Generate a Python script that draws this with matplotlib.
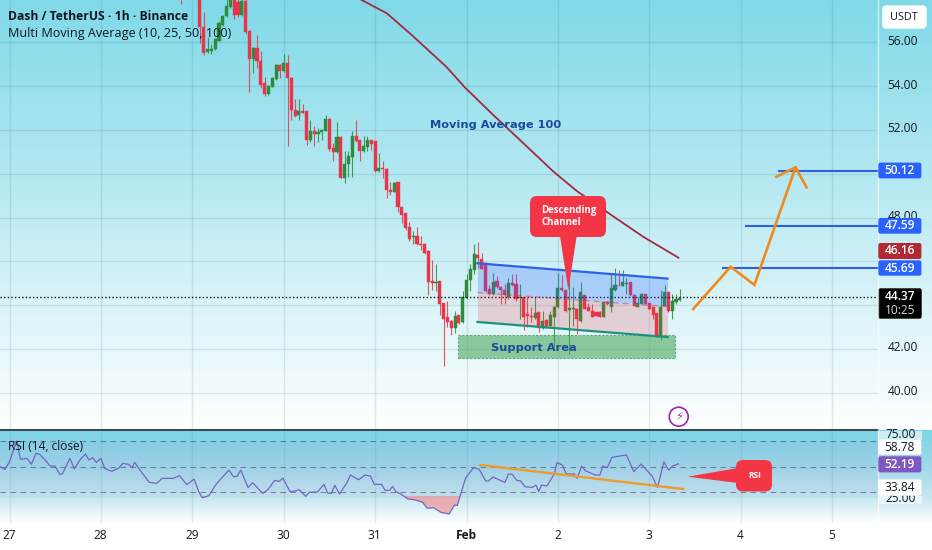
"""DASH/USDT 1h chart with RSI pane and hand-drawn annotations."""

import matplotlib
matplotlib.use("Agg")
import matplotlib.pyplot as plt
import numpy as np
from matplotlib.patches import FancyBboxPatch, Polygon, Circle, Rectangle

plt.rcParams["font.family"] = ["Open Sans", "DejaVu Sans"]

W, H = 932, 550
SCALE_X = 878
PANE_Y = 430
RSI_BOTTOM = 523

# hourly candles, first one at day 29 minus 3 hours
first_candle_day = 29 - 3 / 24
read_bias = 0.1  # prices were read slightly low against the axis

opens = [58.8, 58.9, 58.7, 58.8, 58.9, 58.4, 56.58, 55.46, 55.51, 55.58, 55.97, 56.69, 57.08, 57.50,
         57.9, 57.76, 57.15, 57.80, 56.43, 55.16, 55.66, 55.05, 54.02, 53.55, 53.87, 54.21, 54.87,
         54.59, 54.94, 54.28, 52.83, 52.57, 52.78, 52.75, 51.45, 51.83, 51.71, 51.79, 51.87, 52.40,
         51.07, 50.87, 51.57, 49.72, 50.35, 50.66, 51.64, 51.42, 50.92, 51.12, 51.42, 51.38, 50.04,
         50.15, 50.12, 49.16, 49.08, 49.50, 48.37, 48.09, 47.48, 47.02, 47.07, 46.71, 46.71, 46.38,
         45.0, 44.91, 45.0, 43.99, 43.35, 43.19, 42.86, 43.45, 43.12, 44.23, 45.03, 45.52, 46.21,
         46.02, 45.82, 44.65, 44.42, 44.98, 44.72, 44.57, 44.26, 44.90, 44.87, 44.22, 44.26, 43.50,
         43.42, 43.30, 43.57, 42.85, 43.22, 42.96, 43.37, 43.80, 44.69, 44.57, 43.68, 43.71, 43.73,
         43.19, 44.34, 43.80, 43.65, 43.57, 43.60, 43.37, 44.03, 43.83, 44.57, 44.84, 44.77, 44.86,
         44.95, 44.34, 43.83, 43.96, 44.39, 43.99, 43.80, 43.54, 42.46, 43.88, 44.49, 43.65, 44.03,
         44.14]
highs = [59.0, 59.2, 59.0, 59.1, 59.1, 58.6, 57.27, 56.12, 55.81, 56.1, 56.89, 57.15, 57.88, 58.1,
         58.2, 58.0, 58.0, 58.0, 56.45, 55.7, 56.23, 55.51, 54.31, 53.95, 54.33, 54.9, 54.9,
         55.35, 55.31, 54.3, 53.29, 53.29, 53.10, 52.78, 52.37, 52.09, 51.99, 51.94, 52.60, 52.43,
         51.30, 52.25, 51.6, 50.92, 50.92, 51.83, 52.37, 51.45, 51.64, 51.61, 51.45, 51.4, 50.84,
         50.46, 50.15, 49.54, 49.52, 49.52, 48.4, 48.1, 47.71, 47.29, 47.45, 47.07, 46.73, 46.4,
         45.95, 45.79, 45.02, 44.0, 44.11, 43.2, 43.65, 43.47, 44.54, 45.34, 45.76, 46.68, 46.79,
         46.30, 45.85, 44.84, 45.36, 45.21, 44.75, 44.87, 45.15, 45.33, 45.33, 44.87, 44.28, 44.26,
         43.80, 44.29, 43.6, 43.65, 43.25, 43.65, 43.85, 45.36, 45.26, 44.65, 45.26, 44.72, 43.75,
         44.95, 44.36, 43.99, 43.96, 43.6, 43.65, 44.05, 44.11, 45.30, 45.61, 45.49, 45.52, 45.15,
         44.97, 44.42, 44.26, 44.45, 44.41, 44.0, 43.82, 43.56, 44.57, 44.80, 44.51, 44.42, 44.39,
         44.65]
lows = [57.65, 58.5, 58.4, 58.4, 58.5, 55.89, 55.31, 55.43, 55.35, 55.55, 55.95, 56.65, 57.05, 57.45,
        56.96, 57.04, 57.1, 56.27, 53.63, 54.48, 54.74, 53.82, 53.47, 53.5, 53.85, 54.18, 54.28,
        54.55, 51.15, 52.37, 52.49, 52.34, 52.65, 51.22, 51.33, 51.15, 51.33, 51.45, 51.85, 50.92,
        50.46, 50.85, 49.7, 49.49, 49.77, 49.77, 51.35, 50.50, 50.9, 50.92, 50.99, 50.0, 50.0,
        49.69, 48.77, 48.93, 49.05, 48.17, 47.66, 47.33, 46.84, 46.68, 46.65, 46.41, 46.25, 44.34,
        44.57, 44.54, 43.47, 41.13, 42.92, 42.55, 42.63, 43.04, 43.1, 44.2, 44.54, 45.30, 45.6,
        45.53, 44.5, 44.34, 44.38, 44.68, 43.93, 43.93, 44.2, 44.75, 44.11, 43.27, 42.76, 42.89,
        43.11, 43.28, 42.66, 42.8, 42.85, 42.93, 41.97, 43.78, 44.55, 43.6, 41.66, 42.96, 42.58,
        43.15, 43.7, 43.62, 43.34, 43.38, 43.35, 43.35, 43.9, 43.57, 44.55, 44.78, 44.75, 44.42,
        44.3, 43.85, 43.8, 43.93, 43.93, 43.7, 43.27, 42.44, 42.30, 43.85, 43.6, 43.27, 43.93,
        44.08]
closes = [58.5, 58.6, 58.5, 58.6, 58.6, 56.58, 55.43, 55.58, 55.61, 56.04, 56.78, 57.11, 57.57, 57.88,
          57.15, 57.15, 57.80, 56.38, 55.16, 55.66, 55.05, 53.93, 53.55, 53.90, 54.25, 54.87, 54.59,
          54.94, 54.25, 52.83, 52.52, 52.78, 52.68, 51.45, 51.83, 51.71, 51.80, 51.88, 52.40, 51.04,
          50.87, 51.57, 49.72, 50.35, 50.72, 51.60, 51.39, 50.93, 51.15, 51.45, 51.27, 50.04, 50.15,
          50.10, 49.16, 49.08, 49.49, 48.37, 48.01, 47.40, 46.90, 47.07, 46.68, 46.65, 46.28, 44.95,
          44.91, 44.95, 43.93, 43.27, 43.12, 42.86, 43.39, 43.09, 44.26, 45.06, 45.53, 46.22, 46.05,
          45.56, 44.54, 44.42, 44.95, 44.72, 44.57, 44.34, 44.90, 44.80, 44.19, 44.26, 43.34, 43.42,
          43.37, 43.53, 42.85, 43.19, 42.96, 43.45, 43.83, 44.69, 44.57, 43.62, 43.76, 43.76, 43.27,
          44.49, 43.73, 43.65, 43.37, 43.42, 43.37, 44.03, 43.93, 44.69, 44.83, 44.80, 44.95, 44.91,
          44.34, 43.88, 44.0, 44.42, 43.96, 43.73, 43.47, 42.46, 43.83, 44.49, 43.62, 44.11, 44.19,
          44.23]

ma_days = [30.80, 31.13, 31.38, 31.78, 31.98, 32.29, 32.62, 32.95, 33.21, 33.61, 33.93, 34.32]
ma_values = [58.05, 57.32, 56.41, 54.88, 53.95, 52.69, 51.40, 50.10, 49.20, 48.04, 47.13, 46.16]

rsi_days = [26.90, 26.95, 27.00, 27.05, 27.08, 27.12, 27.19, 27.24, 27.29, 27.33, 27.39, 27.44, 27.50, 27.55,
            27.58, 27.66, 27.71, 27.77, 27.83, 27.87, 27.91, 27.95, 28.00, 28.04, 28.12, 28.19, 28.24, 28.30,
            28.34, 28.37, 28.44, 28.53, 28.61, 28.67, 28.79, 28.86, 28.94, 29.02, 29.07, 29.11, 29.18, 29.26,
            29.40, 29.45, 29.49, 29.53, 29.61, 29.66, 29.77, 29.83, 29.90, 29.95, 29.99, 30.07, 30.14, 30.17,
            30.24, 30.28, 30.37, 30.44, 30.48, 30.52, 30.56, 30.61, 30.69, 30.73, 30.82, 30.89, 30.95, 30.99,
            31.07, 31.11, 31.16, 31.19, 31.23, 31.28, 31.36, 31.43, 31.52, 31.57, 31.64, 31.72, 31.81, 31.87,
            31.90, 31.99, 32.08, 32.14, 32.21, 32.24, 32.29, 32.42, 32.46, 32.50, 32.55, 32.59, 32.64, 32.72,
            32.76, 32.79, 32.82, 32.88, 32.96, 32.99, 33.05, 33.09, 33.18, 33.21, 33.26, 33.30, 33.41, 33.46,
            33.49, 33.54, 33.59, 33.65, 33.75, 33.83, 33.91, 34.03, 34.09, 34.16, 34.21, 34.26, 34.32]
rsi_values = [49.9, 47.8, 53.8, 64.3, 70.1, 55.7, 56.5, 51.8, 60.4, 59.6, 55.2, 50.7, 50.2, 43.9,
              44.4, 56.5, 48.1, 55.2, 59.9, 55.2, 57.0, 53.3, 56.5, 48.6, 46.3, 48.6, 52.5, 51.8,
              49.1, 53.3, 46.0, 37.6, 36.9, 40.8, 40.8, 42.9, 35.8, 40.2, 30.3, 25.6, 27.2, 36.1,
              47.3, 42.1, 42.4, 47.3, 33.5, 37.4, 29.0, 32.1, 39.2, 38.4, 41.0, 30.3, 31.1, 31.9,
              26.7, 29.8, 30.1, 36.1, 29.3, 29.0, 35.3, 28.5, 37.1, 43.4, 39.7, 43.4, 42.6, 36.1,
              36.1, 31.4, 31.4, 34.5, 30.3, 28.5, 24.6, 24.0, 22.0, 17.3, 17.8, 14.1, 12.8, 19.9,
              19.6, 41.0, 49.4, 47.8, 38.7, 38.7, 41.8, 37.6, 44.2, 43.9, 39.2, 38.9, 34.2, 33.7,
              35.5, 30.3, 35.5, 34.8, 44.2, 53.1, 51.2, 44.2, 44.2, 40.8, 50.4, 46.8, 43.4, 43.4,
              50.4, 49.1, 57.2, 58.0, 59.1, 46.0, 52.0, 42.6, 33.7, 53.8, 47.3, 50.7, 52.19]

# drawings
channel_days = [32.12, 34.20]
channel_top = [45.91, 45.21]
channel_mid = [44.57, 43.93]
channel_bottom = [43.23, 42.54]
support_days = [31.91, 34.28]
support_prices = [41.60, 42.63]
target_days = [35.42, 35.06, 34.81]
target_prices = [50.12, 47.59, 45.69]
arrow_days = [34.48, 34.89, 35.15, 35.60]
arrow_prices = [43.82, 45.75, 44.92, 50.29]
head_days = [35.39, 35.60, 35.72]
head_prices = [49.86, 50.29, 49.38]
rsi_trend_days = [32.15, 34.37]
rsi_trend_values = [51.3, 32.4]

last_price = 44.37
price_ticks = [40, 42, 44, 46, 48, 50, 52, 54, 56]
shown_price_ticks = [56, 54, 52, 48, 42, 40]
day_ticks = [27, 28, 29, 30, 31, 32, 33, 34, 35, 36]
day_labels = ["27", "28", "29", "30", "31", "Feb", "2", "3", "4", "5"]
rsi_levels = [70, 50, 30]

RED = "#E8354A"
GREEN = "#2E8B3C"
BLUE = "#2962FF"
TEXT = "#131722"
NAVY = "#1A4A9C"
GRID = "#3C6E82"


def vgradient(stops):
    ys = np.arange(H)
    rows = np.zeros((H, 1, 3))
    pos = [s[0] for s in stops]
    for c in range(3):
        rows[:, 0, c] = np.interp(ys, pos, [s[1][c] / 255 for s in stops])
    return rows


fig = plt.figure(figsize=(W / 100, H / 100), dpi=100)

# background of both panes and the scales
bg = fig.add_axes([0, 0, 1, 1], zorder=0)
bg.axis("off")
stops = [(0, (128, 217, 232)), (PANE_Y - 1, (255, 255, 255)),
         (PANE_Y, (122, 215, 230)), (441, (135, 212, 230)), (467, (162, 216, 233)),
         (498, (200, 232, 241)), (RSI_BOTTOM, (255, 255, 255)), (H - 1, (255, 255, 255))]
bg.imshow(vgradient(stops), extent=[0, W, H, 0], aspect="auto", interpolation="nearest")
bg.set_xlim(0, W)
bg.set_ylim(H, 0)

# main pane
ax = fig.add_axes([0, 1 - PANE_Y / H, SCALE_X / W, PANE_Y / H], zorder=1)
ax.patch.set_alpha(0)
ax.set_xlim(26.896, 26.896 + SCALE_X / 91.4)
ax.set_ylim(48 - (PANE_Y - 217.5) / 21.9, 48 + 217.5 / 21.9)
ax.axis("off")
for p in price_ticks:
    ax.axhline(p, color=GRID, alpha=0.15, lw=1, zorder=1)
for d in day_ticks:
    ax.axvline(d, color=GRID, alpha=0.15, lw=1, zorder=1)

o = np.array(opens) + read_bias
h = np.array(highs) + read_bias
l = np.array(lows) + read_bias
c = np.array(closes) + read_bias
t = first_candle_day + np.arange(len(o)) / 24
colors = np.where(c >= o, GREEN, RED)
ax.vlines(t, l, h, colors=colors, lw=0.8, alpha=0.85, zorder=3)
ax.bar(t, np.abs(c - o), bottom=np.minimum(o, c), width=3.1 / 91.4, color=colors,
       edgecolor=colors, lw=0.3, zorder=4)

ax.plot(ma_days, ma_values, color="#A52A3F", lw=1.3, zorder=5)
ax.axhline(last_price, color="#111111", lw=1, ls=(0, (1, 1.6)), zorder=6)

# channel and support drawings
ax.fill_between(channel_days, channel_mid, channel_top, color=BLUE, alpha=0.25, lw=0, zorder=7)
ax.fill_between(channel_days, channel_bottom, channel_mid, color="#F23645", alpha=0.2, lw=0, zorder=7)
ax.plot(channel_days, channel_top, color="#2D62E8", lw=1.6, zorder=8)
ax.plot(channel_days, channel_mid, color="#F23645", lw=1, ls=(0, (4, 3)), alpha=0.5, zorder=8)
ax.plot(channel_days, channel_bottom, color="#1E9080", lw=1.6, zorder=8)
ax.add_patch(Rectangle((support_days[0], support_prices[0]), support_days[1] - support_days[0],
                       support_prices[1] - support_prices[0], facecolor="#3FA350", alpha=0.55,
                       edgecolor="#1E7A30", lw=0.8, ls=(0, (2, 1.5)), zorder=7))

for d, p in zip(target_days, target_prices):
    ax.plot([d, ax.get_xlim()[1]], [p, p], color="#2D5FE0", lw=1.5, zorder=8)
ax.plot(arrow_days, arrow_prices, color="#EE8A20", lw=1.9, zorder=9, solid_joinstyle="miter")
ax.plot(head_days, head_prices, color="#EE8A20", lw=1.9, zorder=9)

# RSI pane
rsi = fig.add_axes([0, 1 - RSI_BOTTOM / H, SCALE_X / W, (RSI_BOTTOM - PANE_Y) / H], zorder=1)
rsi.patch.set_alpha(0)
rsi.set_xlim(ax.get_xlim())
rsi.set_ylim(50 - (RSI_BOTTOM - 466.6) / 1.275, 50 + (466.6 - PANE_Y) / 1.275)
rsi.axis("off")
rsi.axhspan(25, 70, color="#7E57C2", alpha=0.05, lw=0, zorder=1)
for d in day_ticks:
    rsi.axvline(d, color=GRID, alpha=0.12, lw=1, zorder=1)
for lv in rsi_levels:
    rsi.axhline(lv, color="#4A6A7C", lw=0.8, ls=(0, (5, 4)), alpha=0.7, zorder=2)
rsi_x, rsi_y = np.array(rsi_days), np.array(rsi_values)
rsi.fill_between(rsi_x, rsi_y, 27, where=rsi_y < 27, interpolate=True, color="#F77C80", alpha=0.55, lw=0, zorder=3)
rsi.plot(rsi_x, rsi_y, color="#7566C0", lw=0.9, zorder=4)
rsi.plot(rsi_trend_days, rsi_trend_values, color="#EE9A2C", lw=1.7, zorder=5)

# overlay in pixels for labels and callouts
ov = fig.add_axes([0, 0, 1, 1], zorder=3)
ov.patch.set_alpha(0)
ov.axis("off")
ov.set_xlim(0, W)
ov.set_ylim(H, 0)

ov.plot([0, SCALE_X], [PANE_Y, PANE_Y], color="#3A4A55", lw=1.5)
ov.plot([SCALE_X, SCALE_X], [0, RSI_BOTTOM], color="white", lw=1, alpha=0.6)

ov.text(8, 16, "Dash / TetherUS · 1h · Binance", fontsize=8.7, fontweight="bold", color=TEXT, va="center")
ov.text(8, 33, "Multi Moving Average (10, 25, 50, 100)", fontsize=9.05, color=TEXT, va="center")
ov.text(8, 446, "RSI (14, close)", fontsize=8.6, color=TEXT, va="center")
ov.text(495.5, 125, "Moving Average 100", fontsize=8.2, fontweight="bold", color=NAVY, ha="center", va="center",
        family=["DejaVu Sans"])
ov.text(533.7, 348.3, "Support Area", fontsize=8.2, fontweight="bold", color=NAVY, ha="center", va="center",
        family=["DejaVu Sans"])


def scale_label(y0, y1, text, face, fg="white", x1=921.7):
    ov.add_patch(FancyBboxPatch((879, y0 + 1), x1 - 880, y1 - y0 - 2, boxstyle="round,pad=0,rounding_size=1.5",
                                facecolor=face, edgecolor=face, lw=1, zorder=4))
    ov.text((878 + x1) / 2, (y0 + y1) / 2, text, color=fg, fontsize=8.6,
            fontweight="semibold" if fg == "white" else "normal", ha="center", va="center", zorder=5)


ov.add_patch(FancyBboxPatch((883, 6), 43, 22, boxstyle="round,pad=0,rounding_size=3", facecolor="white", edgecolor="white"))
ov.text(904, 17, "USDT", fontsize=7.8, color=TEXT, ha="center", va="center")

for p in shown_price_ticks:
    y = 217.5 + (48 - p) * 21.9
    ov.text(902.5, y - 1, f"{p:.2f}", fontsize=8.6, color=TEXT, ha="center", va="center")

scale_label(162.3, 178.7, "50.12", BLUE)
scale_label(217.7, 234, "47.59", BLUE)
scale_label(242.7, 259.3, "46.16", "#B22833")
scale_label(260, 276, "45.69", BLUE)
ov.add_patch(FancyBboxPatch((879, 289), 42, 29, boxstyle="round,pad=0,rounding_size=1.5", facecolor="black", edgecolor="black"))
ov.text(900, 296, "44.37", color="white", fontsize=8.6, fontweight="semibold", ha="center", va="center")
ov.text(900, 310, "10:25", color="#D8D8D8", fontsize=8.6, ha="center", va="center")

ov.add_patch(Rectangle((878, 431), 44, 9, facecolor="white", edgecolor="none", alpha=0.6))
ov.add_patch(Rectangle((878, 496), 44, 8, facecolor="white", edgecolor="none", alpha=0.6))
ov.text(901, 434, "75.00", fontsize=8.6, color=TEXT, ha="center", va="center")
ov.text(901, 499, "25.00", fontsize=8.6, color=TEXT, ha="center", va="center")
scale_label(439.3, 455, "58.78", "white", TEXT)
scale_label(456, 472.7, "52.19", "#7E57C2")
scale_label(479, 496, "33.84", "white", TEXT)

for d, lab in zip(day_ticks, day_labels):
    x = 9.5 + (d - 27) * 91.4 - 0.5
    ov.text(x, 535.5, lab, fontsize=8.6, color=TEXT, ha="center", va="center",
            fontweight="bold" if lab == "Feb" else "normal")

# callouts
CALLOUT = "#F23645"
ov.add_patch(Polygon([(560, 236), (576.7, 236), (568.3, 290)], closed=True, facecolor=CALLOUT, edgecolor="none", zorder=5))
ov.add_patch(FancyBboxPatch((530, 196), 76, 41, boxstyle="round,pad=0,rounding_size=7", facecolor=CALLOUT, edgecolor="none", zorder=5))
ov.text(541, 216.5, "Descending\nChannel", color="white", fontsize=6.9, fontweight="bold", va="center", linespacing=1.05, zorder=6)

ov.add_patch(Polygon([(738, 468), (738, 483), (687.7, 476.7)], closed=True, facecolor=CALLOUT, edgecolor="none", zorder=5))
ov.add_patch(FancyBboxPatch((736, 460), 36, 31.5, boxstyle="round,pad=0,rounding_size=7", facecolor=CALLOUT, edgecolor="none", zorder=5))
ov.text(754.7, 475.5, "RSI", color="white", fontsize=6, fontweight="bold", ha="center", va="center", zorder=6)

ov.add_patch(Circle((678.7, 416.7), 9.5, facecolor="none", edgecolor="#9C27B0", lw=1.2))
ov.text(678.7, 416.7, "\u26a1", color="#9C27B0", fontsize=8, ha="center", va="center", family=["DejaVu Sans"])

fig.savefig("out.png", dpi=100)
plt.close(fig)
